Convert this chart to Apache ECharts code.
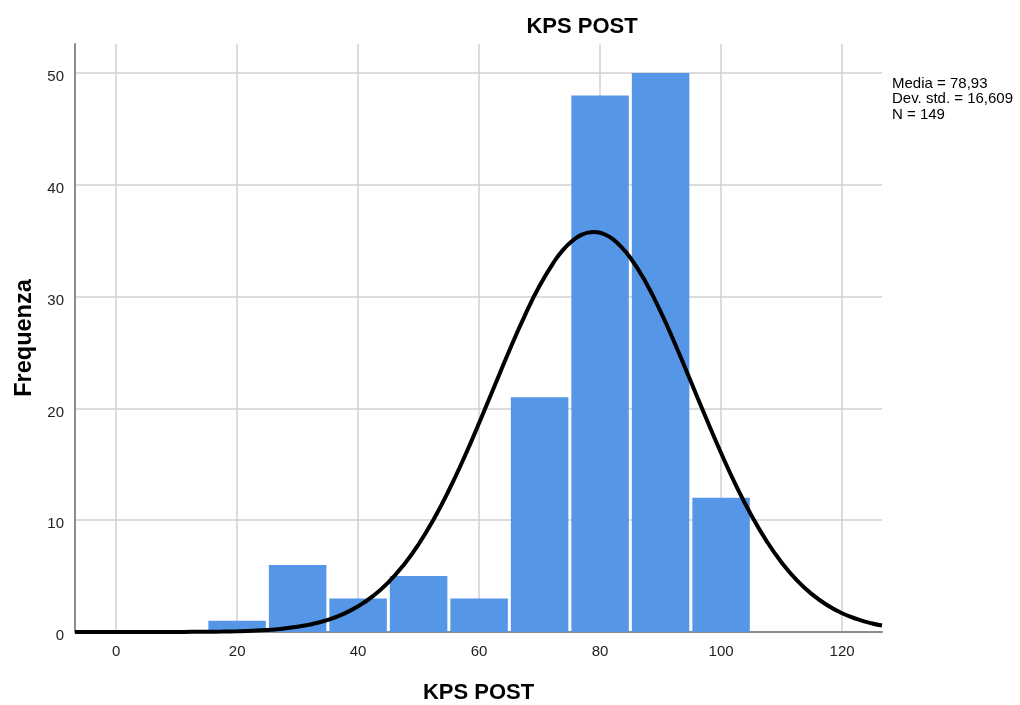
<!DOCTYPE html>
<html>
<head>
<meta charset="utf-8">
<script src="https://cdn.jsdelivr.net/npm/echarts@6/dist/echarts.min.js"></script>
<style>
  html, body { margin: 0; padding: 0; background: #fff; }
  #chart { width: 1020px; height: 705px; }
</style>
</head>
<body>
<div id="chart"></div>
<script>
// istogramma KPS POST
var binStart = [15, 25, 35, 45, 55, 65, 75, 85, 95];
var binEnd = [25, 35, 45, 55, 65, 75, 85, 95, 105];
var freq = [1, 6, 3, 5, 3, 21, 48, 50, 12];

// curva normale
var curveX = [-6.8, -5, -2.5, 0, 2.5, 5, 7.5, 10, 12.5, 15, 17.5, 20, 22.5, 25, 27.5, 30, 32.5, 35, 37.5, 40, 42.5, 45, 47.5,
  50, 52.5, 55, 57.5, 60, 62.5, 65, 67.5, 70, 72.5, 74, 75, 76, 77, 78, 79, 80, 81, 82, 83, 85, 87.5, 90, 92.5, 95, 97.5,
  100, 102.5, 105, 107.5, 110, 112.5, 115, 117.5, 120, 122.5, 125, 126.6];
var curveY = [0, 0, 0, 0, 0.001, 0.002, 0.004, 0.007, 0.012, 0.022, 0.038, 0.066, 0.11, 0.18, 0.3, 0.47, 0.72, 1.08, 1.6, 2.3, 3.23, 4.44, 5.97,
  7.85, 10.09, 12.68, 15.57, 18.69, 21.94, 25.18, 28.24, 30.97, 33.21, 34.25, 34.8, 35.24, 35.55, 35.73, 35.79, 35.72, 35.51, 35.18, 34.73, 33.48, 31.33, 28.66, 25.63, 22.41, 19.16,
  16.01, 13.07, 10.44, 8.15, 6.22, 4.64, 3.39, 2.41, 1.68, 1.15, 0.76, 0.58];

var statLines = ['Media = 78,93', 'Dev. std. = 16,609', 'N = 149'];

var chart = echarts.init(document.getElementById('chart'));

var barData = [];
for (var i = 0; i < freq.length; i++) {
  barData.push([binStart[i], binEnd[i], freq[i]]);
}
var lineData = [];
for (var j = 0; j < curveX.length; j++) {
  lineData.push([curveX[j], curveY[j]]);
}

var option = {
  backgroundColor: '#fff',
  animation: false,
  textStyle: { fontFamily: 'Liberation Sans, Arial, sans-serif' },
  title: {
    text: 'KPS POST',
    left: 577,
    top: 11,
    textAlign: 'center',
    textStyle: { fontSize: 22, fontWeight: 'bold', color: '#000' }
  },
  grid: { left: 75, right: 138, top: 44, bottom: 73, containLabel: false, outerBoundsMode: 'none' },
  xAxis: {
    type: 'value',
    min: -6.8,
    max: 126.6,
    splitNumber: 6,
    name: 'KPS POST',
    nameLocation: 'middle',
    nameGap: 50,
    nameTextStyle: { fontSize: 22, fontWeight: 'bold', color: '#000' },
    axisLine: { show: true, onZero: false, lineStyle: { color: '#8c8c8c', width: 2 } },
    axisTick: { show: false },
    axisLabel: { showMinLabel: false, showMaxLabel: false, fontSize: 15, color: '#222', margin: 12 },
    splitLine: { show: true, showMinLine: false, showMaxLine: false, lineStyle: { color: '#d0d0d0', width: 1.5 } }
  },
  yAxis: {
    type: 'value',
    min: 0,
    max: 52.6,
    interval: 10,
    name: 'Frequenza',
    nameLocation: 'middle',
    nameGap: 38,
    nameTextStyle: { fontSize: 23.5, fontWeight: 'bold', color: '#000' },
    axisLine: { show: true, onZero: false, lineStyle: { color: '#8c8c8c', width: 2 } },
    axisTick: { show: false },
    axisLabel: {
      showMaxLabel: false,
      margin: 11,
      formatter: '{t|{value}}',
      rich: { t: { fontSize: 15, color: '#222', padding: [8, 0, 0, 0] } }
    },
    splitLine: { show: true, showMaxLine: false, lineStyle: { color: '#d0d0d0', width: 1.5 } }
  },
  graphic: [{
    type: 'text',
    left: 892,
    top: 76,
    style: {
      text: statLines.join('\n'),
      font: '15px Liberation Sans, Arial, sans-serif',
      lineHeight: 15.5,
      fill: '#000'
    }
  }],
  series: [
    {
      type: 'custom',
      data: barData,
      encode: { x: [0, 1], y: 2 },
      renderItem: function (params, api) {
        var p0 = api.coord([api.value(0), api.value(2)]);
        var p1 = api.coord([api.value(1), 0]);
        return {
          type: 'rect',
          shape: { x: p0[0] + 1.5, y: p0[1], width: p1[0] - p0[0] - 3, height: p1[1] - p0[1] },
          style: { fill: '#5596e6' }
        };
      },
      z: 2
    },
    {
      type: 'line',
      data: lineData,
      smooth: true,
      showSymbol: false,
      lineStyle: { color: '#000', width: 4 },
      z: 3
    }
  ]
};

chart.setOption(option);
</script>
</body>
</html>
